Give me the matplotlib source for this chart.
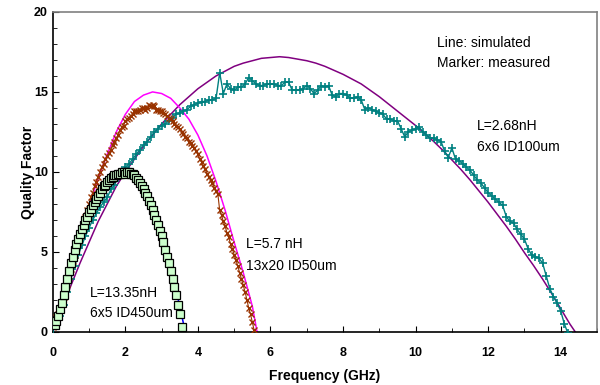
import numpy as np
import matplotlib
matplotlib.use('Agg')
import matplotlib.pyplot as plt

plt.rcParams['font.family'] = ['Liberation Sans', 'DejaVu Sans']

# L=2.68nH, 6x6 ID100um
f_268_meas = np.round(np.arange(0, 14.25, 0.1), 2)
q_268_meas = [0.2, 0.5, 1.0, 1.7, 2.5, 3.3, 4.1, 4.8, 5.4, 6.0,
              6.5, 7.0, 7.4, 7.8, 8.1, 8.4, 8.9, 9.2, 9.6, 9.9,
              10.3, 10.5, 10.8, 11.1, 11.4, 11.7, 11.9, 12.2, 12.5, 12.7,
              12.9, 13.0, 13.2, 13.4, 13.6, 13.7, 13.8, 13.9, 14.1, 14.2,
              14.3, 14.4, 14.4, 14.5, 14.5, 14.6, 16.2, 14.9, 15.5, 15.2,
              15.1, 15.3, 15.3, 15.5, 15.9, 15.7, 15.5, 15.4, 15.4, 15.5,
              15.5, 15.5, 15.4, 15.4, 15.6, 15.6, 15.1, 15.1, 15.1, 15.2,
              15.4, 15.2, 14.9, 15.1, 15.4, 15.3, 15.4, 14.8, 14.7, 14.9,
              14.9, 14.8, 14.6, 14.6, 14.7, 14.5, 13.9, 14.0, 13.9, 13.8,
              13.7, 13.6, 13.3, 13.3, 13.2, 13.2, 12.7, 12.2, 12.5, 12.6,
              12.7, 12.8, 12.5, 12.3, 12.1, 12.1, 12.0, 11.9, 11.3, 10.9,
              11.5, 10.8, 10.7, 10.5, 10.3, 10.1, 9.8, 9.5, 9.3, 9.0,
              8.7, 8.5, 8.3, 8.1, 7.9, 7.2, 6.9, 6.8, 6.4, 6.1,
              5.8, 5.2, 4.8, 4.7, 4.6, 4.3, 3.5, 2.7, 2.2, 1.8,
              1.3, 0.5, -0.1]
f_268_sim = [0.0, 0.25, 0.5, 0.75, 1.0, 1.25, 1.5, 1.75, 2.0, 2.25, 2.5, 2.75,
             3.0, 3.25, 3.5, 3.75, 4.0, 4.25, 4.5, 4.75, 5.0, 5.25, 5.5, 5.75,
             6.0, 6.25, 6.5, 6.75, 7.0, 7.25, 7.5, 7.75, 8.0, 8.25, 8.5, 8.75,
             9.0, 9.25, 9.5, 9.75, 10.0, 10.25, 10.5, 10.75, 11.0, 11.25, 11.5, 11.75,
             12.0, 12.25, 12.5, 12.75, 13.0, 13.25, 13.5, 13.75, 14.0, 14.25, 14.4]
q_268_sim = [0.0, 1.4, 2.9, 4.3, 5.6, 6.9, 8.0, 9.1, 10.0, 10.8, 11.6, 12.3,
             13.0, 13.6, 14.2, 14.7, 15.2, 15.6, 16.0, 16.3, 16.6, 16.8, 16.95, 17.1,
             17.15, 17.2, 17.15, 17.05, 16.95, 16.8, 16.6, 16.35, 16.1, 15.8, 15.5, 15.1,
             14.7, 14.25, 13.8, 13.35, 12.9, 12.4, 11.9, 11.35, 10.75, 10.15, 9.5, 8.8,
             8.1, 7.35, 6.6, 5.8, 4.95, 4.15, 3.3, 2.4, 1.45, 0.5, 0.0]

# L=5.7nH, 13x20 ID50um
f_57_meas = np.round(np.arange(0, 5.56, 0.05), 2)
q_57_meas = [0.3, 0.6, 0.9, 1.1, 1.5, 1.8, 2.2, 2.6, 3.0, 3.5,
             3.9, 4.4, 4.8, 5.2, 5.6, 6.0, 6.4, 6.9, 7.2, 7.6,
             8.0, 8.4, 8.7, 9.1, 9.4, 9.7, 10.0, 10.3, 10.5, 10.8,
             11.0, 11.2, 11.4, 11.7, 11.9, 12.1, 12.3, 12.6, 12.8, 12.9,
             13.2, 13.3, 13.4, 13.5, 13.6, 13.8, 13.8, 13.8, 13.9, 14.0,
             14.0, 13.9, 14.0, 14.2, 14.1, 14.2, 14.1, 13.9, 13.9, 13.8,
             13.8, 13.7, 13.6, 13.5, 13.4, 13.3, 13.2, 13.0, 12.9, 12.8,
             12.7, 12.5, 12.4, 12.2, 12.1, 11.9, 11.8, 11.6, 11.5, 11.3,
             11.1, 10.8, 10.6, 10.4, 10.2, 9.9, 9.7, 9.5, 9.3, 9.0,
             8.8, 8.6, 7.6, 7.3, 6.9, 6.6, 6.2, 5.9, 5.5, 5.2,
             4.8, 4.5, 4.1, 3.7, 3.3, 2.9, 2.5, 2.0, 1.5, 1.1,
             0.6, 0.1]
f_57_sim = [0.0, 0.25, 0.5, 0.75, 1.0, 1.25, 1.5, 1.75, 2.0, 2.25, 2.5, 2.75,
            3.0, 3.25, 3.5, 3.75, 4.0, 4.25, 4.5, 4.75, 5.0, 5.25, 5.5, 5.63]
q_57_sim = [0.0, 2.0, 4.0, 6.0, 7.9, 9.6, 11.1, 12.5, 13.6, 14.4, 14.8, 15.0,
            14.9, 14.6, 14.0, 13.3, 12.3, 11.0, 9.4, 7.6, 5.6, 3.7, 1.6, 0.0]

# L=13.35nH, 6x5 ID450um
f_1335_meas = np.round(np.arange(0.05, 3.56, 0.05), 2)
q_1335_meas = [0.4, 0.7, 1.0, 1.4, 1.8, 2.3, 2.8, 3.3, 3.8, 4.3,
               4.7, 5.1, 5.5, 5.8, 6.1, 6.4, 6.7, 7.0, 7.2, 7.5,
               7.7, 7.9, 8.1, 8.3, 8.5, 8.7, 8.9, 9.1, 9.2, 9.4,
               9.5, 9.6, 9.7, 9.8, 9.8, 9.9, 9.9, 10.0, 10.0, 9.9,
               10.0, 10.0, 9.9, 9.9, 9.8, 9.6, 9.5, 9.3, 9.1, 8.9,
               8.7, 8.5, 8.2, 7.9, 7.6, 7.3, 7.0, 6.7, 6.3, 6.0,
               5.6, 5.1, 4.7, 4.3, 3.8, 3.3, 2.8, 2.3, 1.7, 1.1,
               0.3]
f_1335_sim = [0.0, 0.25, 0.5, 0.75, 1.0, 1.25, 1.5, 1.75, 2.0, 2.25, 2.5, 2.75,
              3.0, 3.25, 3.5, 3.65]
q_1335_sim = [0.0, 1.8, 3.9, 5.8, 7.2, 8.3, 9.0, 9.5, 9.7, 9.6, 9.0, 7.9,
              6.2, 4.0, 1.6, 0.0]

xticks = [0, 2, 4, 6, 8, 10, 12, 14]
yticks = [0, 5, 10, 15, 20]

fig = plt.figure(figsize=(6, 3.85), dpi=100)
ax = fig.add_axes([0.088, 0.138, 0.907, 0.831])

# simulated lines
ax.plot(f_268_sim, q_268_sim, color='#800080', lw=1.1, zorder=2)
ax.plot(f_57_sim, q_57_sim, color='#FF00FF', lw=1.1, zorder=2)
ax.plot(f_1335_sim, q_1335_sim, color='#0000FF', lw=1.1, zorder=2)

# measured markers
ax.plot(f_268_meas, q_268_meas, color='#008080', lw=1, marker='+',
        ms=6, mew=1.2, zorder=3)
ax.plot(f_57_meas, q_57_meas, color='#993300', lw=0.8, marker='x',
        ms=4, mew=1, zorder=4)
ax.plot(f_1335_meas, q_1335_meas, ls='none', marker='s', ms=5.5,
        mfc='#CCFFCC', mec='black', mew=0.9, zorder=5)

ax.set_xlim(0, 15)
ax.set_ylim(0, 20)
ax.set_xticks(xticks)
ax.set_xticks(np.arange(0, 16, 1), minor=True)
ax.set_yticks(yticks)
ax.set_yticks(np.arange(0, 21, 1), minor=True)
ax.tick_params(which='both', direction='in', labelsize=9)
ax.tick_params(which='major', length=4)
ax.tick_params(which='minor', length=3)
ax.tick_params(axis='x', pad=11)
for lab in ax.get_xticklabels() + ax.get_yticklabels():
    lab.set_fontweight('bold')

for s in ['top', 'right']:
    ax.spines[s].set_color('#808080')
    ax.spines[s].set_linewidth(1.2)
for s in ['left', 'bottom']:
    ax.spines[s].set_linewidth(1.2)

ax.set_xlabel('Frequency (GHz)', fontsize=10, fontweight='bold', labelpad=7)
ax.set_ylabel('Quality Factor', fontsize=10, fontweight='bold', labelpad=-1)

ax.text(10.58, 18.06, 'Line: simulated', fontsize=10, va='center')
ax.text(10.58, 16.8, 'Marker: measured', fontsize=10, va='center')
ax.text(11.69, 12.9, 'L=2.68nH', fontsize=10, va='center')
ax.text(11.69, 11.56, '6x6 ID100um', fontsize=10, va='center')
ax.text(5.33, 5.5, 'L=5.7 nH', fontsize=10, va='center')
ax.text(5.33, 4.1, '13x20 ID50um', fontsize=10, va='center')
ax.text(1.02, 2.44, 'L=13.35nH', fontsize=10, va='center')
ax.text(1.02, 1.19, '6x5 ID450um', fontsize=10, va='center')

fig.savefig('out.png', dpi=100)
